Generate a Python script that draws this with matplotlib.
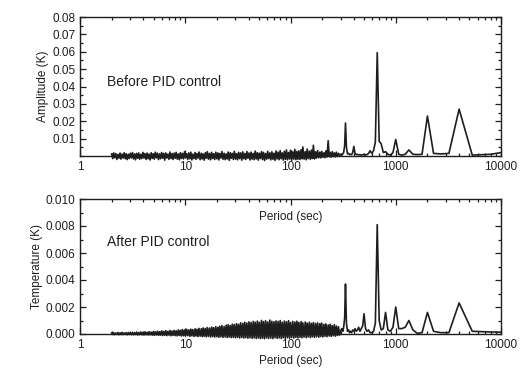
import matplotlib
matplotlib.use("Agg")
import matplotlib.pyplot as plt
from matplotlib.ticker import FixedLocator, MultipleLocator, LogLocator, NullFormatter
from matplotlib.patches import Rectangle
import numpy as np

plt.rcParams['font.family'] = ['Liberation Sans', 'DejaVu Sans']

# ---- noise region (period 2 .. 300 s) ----
noise_period = [
    2.00, 2.05, 2.09, 2.14, 2.19, 2.24, 2.29, 2.34, 2.40, 2.45,
    2.51, 2.57, 2.63, 2.69, 2.75, 2.81, 2.88, 2.94, 3.01, 3.08,
    3.15, 3.22, 3.30, 3.37, 3.45, 3.53, 3.61, 3.69, 3.78, 3.87,
    3.96, 4.05, 4.14, 4.24, 4.34, 4.44, 4.54, 4.64, 4.75, 4.86,
    4.97, 5.08, 5.20, 5.32, 5.44, 5.57, 5.70, 5.83, 5.96, 6.10,
    6.24, 6.38, 6.53, 6.68, 6.84, 7.00, 7.16, 7.32, 7.49, 7.66,
    7.84, 8.02, 8.20, 8.39, 8.59, 8.79, 8.99, 9.19, 9.40, 9.62,
    9.84, 10.05, 10.3, 10.55, 10.8, 11.05, 11.3, 11.55, 11.8, 12.1,
    12.4, 12.65, 12.9, 13.2, 13.5, 13.85, 14.2, 14.5, 14.8, 15.15,
    15.5, 15.85, 16.2, 16.6, 17.0, 17.4, 17.8, 18.2, 18.6, 19.05,
    19.5, 19.95, 20.4, 20.85, 21.3, 21.8, 22.3, 22.85, 23.4, 23.95,
    24.5, 25.05, 25.6, 26.2, 26.8, 27.4, 28.0, 28.65, 29.3, 30.0,
    30.7, 31.4, 32.1, 32.85, 33.6, 34.4, 35.2, 36.0, 36.8, 37.65,
    38.5, 39.4, 40.3, 41.25, 42.2, 43.2, 44.2, 45.2, 46.2, 47.3,
    48.4, 49.5, 50.6, 51.8, 53.0, 54.2, 55.4, 56.7, 58.0, 59.35,
    60.7, 62.1, 63.6, 65.05, 66.5, 68.05, 69.6, 71.25, 72.9, 74.6,
    76.3, 78.05, 79.8, 81.65, 83.5, 85.45, 87.4, 89.45, 91.5, 93.6,
    95.8, 97.9, 100, 102.5, 105, 107.5, 110, 112.5, 115, 117.5,
    120, 123, 126, 128.5, 131, 134.5, 138, 141, 144, 147.5,
    151, 154.5, 158, 161.5, 165, 169, 173, 177, 181, 185.5,
    190, 194, 198, 203, 208, 212.5, 217, 222.5, 228, 233,
    238, 243.5, 249, 255, 261, 267, 273, 279.5, 286, 292.5,
    299]

before_noise = [
    0.0012, -0.0015, 0.0018, -0.0010, 0.0014, -0.0020, 0.0009, -0.0013, 0.0017, -0.0018,
    0.0011, -0.0012, 0.0019, -0.0016, 0.0013, -0.0021, 0.0010, -0.0014, 0.0016, -0.0011,
    0.0020, -0.0017, 0.0012, -0.0022, 0.0015, -0.0013, 0.0018, -0.0019, 0.0010, -0.0015,
    0.0021, -0.0012, 0.0014, -0.0020, 0.0017, -0.0016, 0.0011, -0.0023, 0.0019, -0.0014,
    0.0013, -0.0018, 0.0022, -0.0011, 0.0016, -0.0021, 0.0012, -0.0016, 0.0020, -0.0013,
    0.0015, -0.0024, 0.0018, -0.0012, 0.0011, -0.0019, 0.0023, -0.0015, 0.0014, -0.0020,
    0.0017, -0.0013, 0.0021, -0.0018, 0.0012, -0.0022, 0.0019, -0.0014, 0.0015, -0.0017,
    0.0024, -0.0011, 0.0013, -0.0020, 0.0018, -0.0016, 0.0022, -0.0023, 0.0011, -0.0015,
    0.0020, -0.0019, 0.0014, -0.0012, 0.0023, -0.0021, 0.0016, -0.0017, 0.0012, -0.0024,
    0.0019, -0.0013, 0.0025, -0.0018, 0.0015, -0.0022, 0.0021, -0.0014, 0.0013, -0.0020,
    0.0022, -0.0016, 0.0018, -0.0023, 0.0014, -0.0012, 0.0026, -0.0019, 0.0016, -0.0021,
    0.0012, -0.0017, 0.0023, -0.0025, 0.0019, -0.0013, 0.0015, -0.0020, 0.0027, -0.0018,
    0.0013, -0.0022, 0.0021, -0.0015, 0.0018, -0.0024, 0.0024, -0.0016, 0.0014, -0.0020,
    0.0026, -0.0013, 0.0017, -0.0023, 0.0022, -0.0018, 0.0015, -0.0021, 0.0028, -0.0017,
    0.0019, -0.0024, 0.0016, -0.0014, 0.0025, -0.0020, 0.0021, -0.0026, 0.0014, -0.0018,
    0.0027, -0.0015, 0.0018, -0.0022, 0.0024, -0.0019, 0.0016, -0.0025, 0.0029, -0.0017,
    0.0022, -0.0021, 0.0031, -0.0016, 0.0018, -0.0024, 0.0027, -0.0019, 0.0035, -0.0022,
    0.0020, -0.0017, 0.0033, -0.0025, 0.0024, -0.0018, 0.0038, -0.0021, 0.0026, -0.0019,
    0.0030, -0.0020, 0.0036, -0.0016, 0.0052, -0.0018, 0.0025, -0.0022, 0.0040, -0.0015,
    0.0028, -0.0019, 0.0034, -0.0014, 0.0062, -0.0017, 0.0024, -0.0012, 0.0031, -0.0010,
    0.0022, -0.0011, 0.0027, -0.0008, 0.0019, -0.0010, 0.0030, -0.0006, 0.0088, -0.0004,
    0.0021, -0.0007, 0.0025, -0.0003, 0.0018, -0.0005, 0.0022, -0.0002, 0.0015, 0.0004,
    0.0010]

after_noise = [
    0.00008, -0.00004, 0.00010, -0.00005, 0.00007, -0.00003, 0.00011, -0.00006, 0.00009, -0.00004,
    0.00012, -0.00005, 0.00008, -0.00003, 0.00010, -0.00006, 0.00011, -0.00004, 0.00009, -0.00005,
    0.00012, -0.00006, 0.00010, -0.00004, 0.00014, -0.00007, 0.00011, -0.00005, 0.00015, -0.00006,
    0.00012, -0.00008, 0.00016, -0.00005, 0.00013, -0.00007, 0.00017, -0.00006, 0.00014, -0.00008,
    0.00018, -0.00009, 0.00015, -0.00007, 0.00021, -0.00010, 0.00017, -0.00008, 0.00023, -0.00011,
    0.00019, -0.00009, 0.00025, -0.00012, 0.00020, -0.00008, 0.00026, -0.00013, 0.00022, -0.00010,
    0.00027, -0.00012, 0.00024, -0.00014, 0.00030, -0.00011, 0.00028, -0.00015, 0.00033, -0.00013,
    0.00029, -0.00016, 0.00035, -0.00012, 0.00031, -0.00017, 0.00036, -0.00014, 0.00033, -0.00018,
    0.00038, -0.00015, 0.00035, -0.00019, 0.00042, -0.00016, 0.00039, -0.00020, 0.00045, -0.00017,
    0.00041, -0.00021, 0.00048, -0.00018, 0.00044, -0.00022, 0.00051, -0.00019, 0.00047, -0.00023,
    0.00054, -0.00020, 0.00050, -0.00024, 0.00058, -0.00021, 0.00062, -0.00025, 0.00056, -0.00022,
    0.00066, -0.00026, 0.00069, -0.00023, 0.00063, -0.00027, 0.00073, -0.00024, 0.00070, -0.00028,
    0.00077, -0.00025, 0.00072, -0.00029, 0.00083, -0.00026, 0.00079, -0.00030, 0.00087, -0.00027,
    0.00081, -0.00031, 0.00090, -0.00028, 0.00085, -0.00032, 0.00093, -0.00029, 0.00088, -0.00033,
    0.00096, -0.00030, 0.00087, -0.00034, 0.00101, -0.00031, 0.00092, -0.00035, 0.00098, -0.00029,
    0.00089, -0.00033, 0.00103, -0.00030, 0.00094, -0.00034, 0.00091, -0.00028, 0.00097, -0.00032,
    0.00093, -0.00029, 0.00100, -0.00033, 0.00087, -0.00028, 0.00096, -0.00032, 0.00091, -0.00027,
    0.00099, -0.00031, 0.00085, -0.00026, 0.00094, -0.00030, 0.00089, -0.00025, 0.00095, -0.00029,
    0.00086, -0.00024, 0.00092, -0.00028, 0.00083, -0.00023, 0.00089, -0.00027, 0.00081, -0.00022,
    0.00087, -0.00026, 0.00078, -0.00021, 0.00085, -0.00025, 0.00079, -0.00020, 0.00082, -0.00024,
    0.00077, -0.00019, 0.00081, -0.00022, 0.00071, -0.00017, 0.00075, -0.00020, 0.00067, -0.00015,
    0.00072, -0.00018, 0.00063, -0.00013, 0.00069, -0.00016, 0.00059, -0.00011, 0.00054, -0.00008,
    0.00020]

# ---- harmonic region (period > 300 s) ----
peak_period = [302, 308, 314, 320, 327, 333, 340, 348, 356, 364,
               372, 381, 390, 400, 410, 421, 432, 444, 457, 471,
               485, 500, 516, 533, 552, 571, 593, 615, 640, 667,
               696, 727, 762, 800, 842, 889, 941, 1000, 1067, 1143,
               1231, 1333, 1455, 1600, 1778, 2000, 2286, 2667, 3200, 4000,
               5333, 8000, 16000]

before_peak = [0.0010, 0.0005, 0.0012, 0.0020, 0.0060, 0.0190, 0.0050, 0.0012, 0.0015, 0.0008,
               0.0010, 0.0008, 0.0020, 0.0055, 0.0015, 0.0008, 0.0010, 0.0006, 0.0008, 0.0005,
               0.0007, 0.0010, 0.0006, 0.0008, 0.0015, 0.0030, 0.0015, 0.0030, 0.0080, 0.0595,
               0.0085, 0.0070, 0.0020, 0.0025, 0.0010, 0.0005, 0.0020, 0.0095, 0.0010, 0.0005,
               0.0010, 0.0035, 0.0010, 0.0008, 0.0010, 0.0230, 0.0015, 0.0012, 0.0015, 0.0270,
               0.0005, 0.0010, 0.0040]

after_peak = [0.0003, 0.0004, 0.0002, 0.0005, 0.0012, 0.0037, 0.0008, 0.0002, 0.0003, 0.0001,
              0.0002, 0.0001, 0.0003, 0.0002, 0.0004, 0.0002, 0.0003, 0.0005, 0.0002, 0.0004,
              0.0006, 0.0015, 0.0004, 0.0002, 0.0003, 0.0001, 0.0001, 0.0002, 0.0008, 0.0081,
              0.0010, 0.0003, 0.0004, 0.0016, 0.0003, 0.0002, 0.0005, 0.0020, 0.0004, 0.0004,
              0.0005, 0.0010, 0.0003, 0.00005, 0.0001, 0.0016, 0.0002, 0.0001, 0.0001, 0.0023,
              0.0002, 0.00015, 0.0001]

top_yticks = [0.01, 0.02, 0.03, 0.04, 0.05, 0.06, 0.07, 0.08]
bot_yticks = [0.000, 0.002, 0.004, 0.006, 0.008, 0.010]
xtick_vals = [1, 10, 100, 1000, 10000]
xtick_labels = ["1", "10", "100", "1000", "10000"]

assert len(noise_period) == len(before_noise) == len(after_noise), \
    (len(noise_period), len(before_noise), len(after_noise))
assert len(peak_period) == len(before_peak) == len(after_peak)

INK = "#1e1e1e"

period = noise_period + peak_period
before = before_noise + before_peak
after = after_noise + after_peak

fig = plt.figure(figsize=(5.28, 3.76), dpi=100)
ax1 = fig.add_axes([80/528, 1-156/376, 421/528, 139/376])
ax2 = fig.add_axes([80/528, 1-334/376, 421/528, 135/376])

for ax, ys in ((ax1, before), (ax2, after)):
    ln, = ax.plot(period, ys, color=INK, lw=1.2)
    # clip horizontally to the axes but let the trace dip under the x axis
    ln.set_clip_path(Rectangle((0, -0.1), 1, 1.2, transform=ax.transAxes))

for ax in (ax1, ax2):
    ax.set_xscale('log')
    ax.set_xlim(1, 10000)
    ax.xaxis.set_major_locator(FixedLocator(xtick_vals))
    ax.set_xticklabels(xtick_labels)
    ax.xaxis.set_minor_locator(LogLocator(base=10, subs=np.arange(2, 10)))
    ax.xaxis.set_minor_formatter(NullFormatter())
    ax.tick_params(which='both', direction='in', top=True, right=True,
                   colors=INK, labelsize=8.5, width=0.9)
    ax.tick_params(which='major', length=4)
    ax.tick_params(which='minor', length=2)
    for s in ax.spines.values():
        s.set_color(INK)
        s.set_linewidth(1.0)

ax1.set_ylim(0, 0.08)
ax1.yaxis.set_major_locator(FixedLocator(top_yticks))
ax1.set_yticklabels([f"{v:.2f}" for v in top_yticks])
ax1.yaxis.set_minor_locator(MultipleLocator(0.005))
ax1.set_ylabel("Amplitude (K)", fontsize=8.5, color=INK, labelpad=2)

ax2.set_ylim(0, 0.010)
ax2.yaxis.set_major_locator(FixedLocator(bot_yticks))
ax2.set_yticklabels([f"{v:.3f}" for v in bot_yticks])
ax2.yaxis.set_minor_locator(MultipleLocator(0.001))
ax2.set_ylabel("Temperature (K)", fontsize=8.5, color=INK, labelpad=2)
ax2.set_xlabel("Period (sec)", fontsize=8.5, color=INK, labelpad=3)

ax1.text(0.065, 0.53, "Before PID control", transform=ax1.transAxes,
         fontsize=10, color=INK, va='center', ha='left')
ax2.text(0.065, 0.68, "After PID control", transform=ax2.transAxes,
         fontsize=10, color=INK, va='center', ha='left')
fig.text(290.5/528, 1-217/376, "Period (sec)", fontsize=8.5, color=INK,
         ha='center', va='center')

fig.savefig("out.png", dpi=100)
